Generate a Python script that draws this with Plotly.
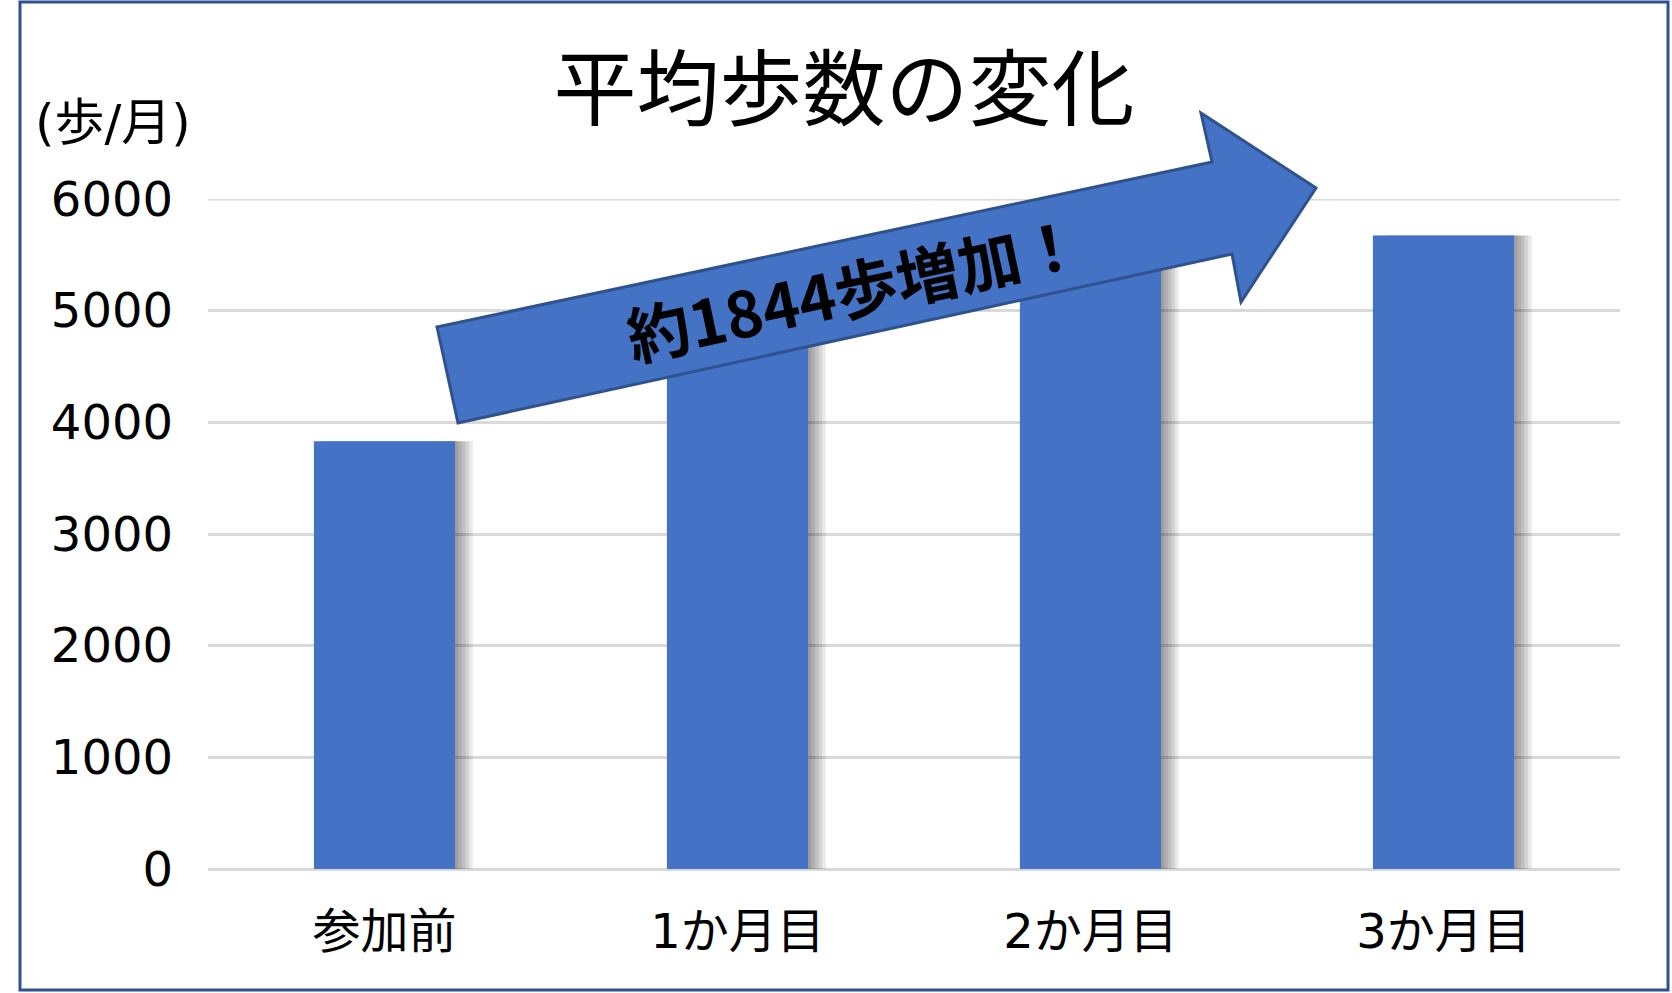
import plotly.graph_objects as go

# chart data
categories = ['参加前', '1か月目', '2か月目', '3か月目']
avg_steps = [3830, 4870, 5380, 5674]
y_ticks = [0, 1000, 2000, 3000, 4000, 5000, 6000]

title_text = '平均歩数の変化'
unit_text = '(歩/月)'
arrow_text = '約1844歩増加！'

W, H = 1672, 993
# plot area in pixels
PL, PR, PT, PB = 208, 1620, 199, 869

FONT = 'Noto Sans CJK JP'
NUM_FONT = 'DejaVu Sans, Noto Sans CJK JP'
BLUE = '#4472C4'
DARK_BLUE = '#2F528F'
GRID = '#D9D9D9'


def px(x, y):
    # page pixels -> paper coords
    return (x - PL) / (PR - PL), (PB - y) / (PB - PT)


fig = go.Figure()

# soft shadow to the right of each bar
for shift in [0.05, 0.04, 0.03, 0.02, 0.01]:
    fig.add_trace(go.Bar(
        x=categories, y=avg_steps,
        width=0.4, offset=-0.2 + shift,
        marker=dict(color='rgba(0,0,0,0.085)', line=dict(width=0)),
        hoverinfo='skip', showlegend=False,
    ))

fig.add_trace(go.Bar(
    x=categories, y=avg_steps,
    width=0.4, offset=-0.2,
    marker=dict(color=BLUE, line=dict(width=0)),
    showlegend=False,
))

# the big arrow
arrow_pts = [(437, 327), (1212, 162), (1201, 113), (1316, 188),
             (1241, 302), (1232, 254), (458, 423)]
path = ''
for i, (ax, ay) in enumerate(arrow_pts):
    qx, qy = px(ax, ay)
    path += ('M' if i == 0 else 'L') + f'{qx:.5f},{qy:.5f} '
path += 'Z'

bx0, by0 = px(20, 2)
bx1, by1 = px(1668, 990)

fig.update_layout(
    width=W, height=H,
    margin=dict(l=PL, r=W - PR, t=PT, b=H - PB),
    paper_bgcolor='white', plot_bgcolor='white',
    barmode='overlay',
    font=dict(family=FONT, color='#000000'),
    title=dict(text=title_text, x=844 / W, y=1 - 90 / H,
               xanchor='center', yanchor='middle', xref='container', yref='container',
               font=dict(family=FONT, size=83, color='#000000')),
    xaxis=dict(showgrid=False, showline=False, ticks='',
               tickfont=dict(family=NUM_FONT, size=48, color='#000000'),
               ticklabelstandoff=30),
    yaxis=dict(range=[0, 6000], tickvals=y_ticks, showgrid=True,
               gridcolor=GRID, gridwidth=3,
               zeroline=True, zerolinecolor=GRID, zerolinewidth=3,
               showline=False, ticks='',
               tickfont=dict(family=NUM_FONT, size=48, color='#000000'),
               ticklabelstandoff=34),
    shapes=[
        # top gridline (plotly skips the one sitting on the range edge)
        dict(type='line', xref='paper', yref='y', x0=0, x1=1,
             y0=y_ticks[-1], y1=y_ticks[-1], line=dict(color=GRID, width=3), layer='below'),
        dict(type='path', path=path, xref='paper', yref='paper',
             fillcolor=BLUE, line=dict(color=DARK_BLUE, width=3), layer='above'),
        dict(type='rect', xref='paper', yref='paper',
             x0=bx0, y0=by0, x1=bx1, y1=by1,
             line=dict(color=DARK_BLUE, width=3), layer='below'),
    ],
)

ux, uy = px(113, 123)
tx, ty = px(854, 286)
fig.add_annotation(text=unit_text, x=ux, y=uy, xref='paper', yref='paper',
                   showarrow=False, xanchor='center', yanchor='middle',
                   font=dict(family=NUM_FONT, size=50, color='#000000'))
fig.add_annotation(text=arrow_text, x=tx, y=ty, xref='paper', yref='paper',
                   showarrow=False, xanchor='center', yanchor='middle', textangle=-12,
                   font=dict(family=FONT, size=63, color='#000000', weight=700))

# drop the default 8px page margin so the figure sits at the window corner
fig.write_html('out.html', config={'displayModeBar': False},
               post_script="document.body.style.margin='0';")
